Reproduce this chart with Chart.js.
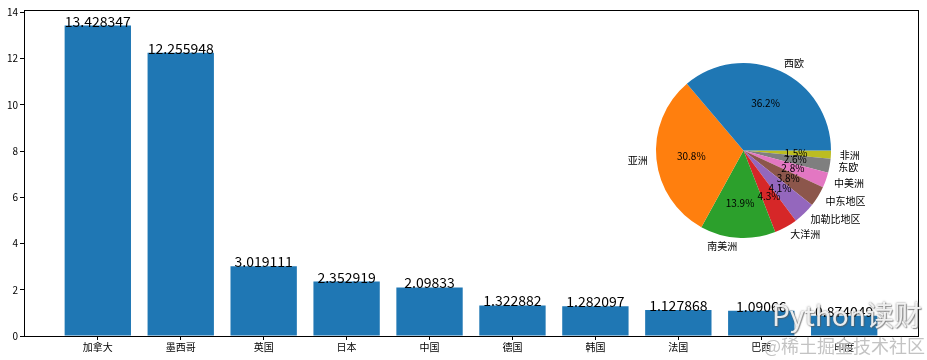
<!DOCTYPE html>
<html>
<head>
<meta charset="utf-8">
<script src="https://cdn.jsdelivr.net/npm/chart.js@4.4.1/dist/chart.umd.min.js"></script>
<style>
  html, body { margin: 0; padding: 0; background: #fff; }
  #wrap { position: relative; width: 927px; height: 360px; overflow: hidden; }
  #bar { position: absolute; left: 0; top: 0; }
  #pie { position: absolute; left: 600px; top: 40px; }
  .wm1 { position: absolute; left: 772px; top: 296px; font-family: "Noto Sans CJK SC", sans-serif; font-size: 28px; line-height: 36px; color: rgba(255,255,255,0.88); text-shadow: 0 0 2px rgba(90,90,90,0.8), 1px 1px 1px rgba(90,90,90,0.6); white-space: nowrap; }
  .wm2 { position: absolute; left: 764px; top: 333px; font-family: "Noto Sans CJK SC", sans-serif; font-size: 18px; line-height: 24px; color: rgba(175,175,175,0.75); text-shadow: 0 0 1px rgba(255,255,255,0.8); white-space: nowrap; }
</style>
</head>
<body>
<div id="wrap">
  <canvas id="bar" width="927" height="360"></canvas>
  <canvas id="pie" width="280" height="230"></canvas>
  <div class="wm1">Python读财</div>
  <div class="wm2">@稀土掘金技术社区</div>
</div>
<script>
// ---- data ----
const countries = ['加拿大', '墨西哥', '英国', '日本', '中国', '德国', '韩国', '法国', '巴西', '印度'];
const countryValues = [13.428347, 12.255948, 3.019111, 2.352919, 2.09833, 1.322882, 1.282097, 1.127868, 1.09066, 0.874049];
const yTicks = [0, 2, 4, 6, 8, 10, 12, 14];

const regions = ['西欧', '亚洲', '南美洲', '大洋洲', '加勒比地区', '中东地区', '中美洲', '东欧', '非洲'];
const regionShares = [36.2, 30.8, 13.9, 4.3, 4.1, 3.8, 2.8, 2.6, 1.5];
const regionColors = ['#1f77b4', '#ff7f0e', '#2ca02c', '#d62728', '#9467bd', '#8c564b', '#e377c2', '#7f7f7f', '#bcbd22'];

const FONT = '"Noto Sans CJK SC", "DejaVu Sans", sans-serif';

// ---- bar chart ----
const frame = {
  id: 'frame',
  afterDraw(chart) {
    const a = chart.chartArea, ctx = chart.ctx;
    ctx.save();
    ctx.strokeStyle = '#000';
    ctx.lineWidth = 1;
    ctx.strokeRect(Math.round(a.left) + 0.5, Math.round(a.top) + 0.5, Math.round(a.right - a.left), Math.round(a.bottom - a.top));
    ctx.restore();
  }
};
const barLabels = {
  id: 'barLabels',
  afterDatasetsDraw(chart) {
    const ctx = chart.ctx;
    const meta = chart.getDatasetMeta(0);
    ctx.save();
    ctx.fillStyle = '#000';
    ctx.font = '14px ' + FONT;
    ctx.textAlign = 'center';
    ctx.textBaseline = 'alphabetic';
    meta.data.forEach((el, i) => {
      ctx.fillText(String(countryValues[i]), el.x, el.y + 1);
    });
    ctx.restore();
  }
};

new Chart(document.getElementById('bar'), {
  type: 'bar',
  data: {
    datasets: [{
      data: countryValues.map((v, i) => ({ x: i, y: v })),
      backgroundColor: '#1f77b4',
      borderWidth: 0,
      barPercentage: 0.8,
      categoryPercentage: 1.0
    }]
  },
  options: {
    responsive: false,
    animation: false,
    layout: { padding: { left: 0, top: 10, right: 9, bottom: 0 } },
    plugins: { legend: { display: false }, tooltip: { enabled: false } },
    scales: {
      x: {
        type: 'linear',
        offset: false,
        min: -0.89,
        max: 9.89,
        afterBuildTicks(s) { s.ticks = countries.map((c, i) => ({ value: i })); },
        afterFit(s) { s.height = 24; },
        ticks: {
          autoSkip: false,
          maxRotation: 0,
          padding: 1,
          color: '#000',
          font: { family: FONT, size: 10 },
          callback: (v) => countries[v]
        },
        grid: { offset: false, drawOnChartArea: false, drawTicks: true, tickLength: 4, color: '#000' },
        border: { display: true, color: '#000' }
      },
      y: {
        min: 0,
        max: 14.1,
        afterBuildTicks(s) { s.ticks = yTicks.map(v => ({ value: v })); },
        afterFit(s) { s.width = 24; },
        ticks: {
          padding: 2,
          color: '#000',
          font: { family: FONT, size: 10 }
        },
        grid: { drawOnChartArea: false, drawTicks: true, tickLength: 4, color: '#000' },
        border: { display: true, color: '#000' }
      }
    }
  },
  plugins: [barLabels, frame]
});

// ---- pie chart (inset) ----
const revIdx = regions.map((_, i) => regions.length - 1 - i);
const pieLabels = {
  id: 'pieLabels',
  afterDatasetsDraw(chart) {
    const ctx = chart.ctx;
    const meta = chart.getDatasetMeta(0);
    ctx.save();
    ctx.fillStyle = '#000';
    meta.data.forEach((el, k) => {
      const i = revIdx[k];
      const mid = (el.startAngle + el.endAngle) / 2;
      const r = el.outerRadius;
      const c = Math.cos(mid), s = Math.sin(mid);
      ctx.font = '10px ' + FONT;
      ctx.textBaseline = 'middle';
      ctx.textAlign = c > 0 ? 'left' : 'right';
      ctx.fillText(regions[i], el.x + r * 1.1 * c, el.y + r * 1.1 * s);
      ctx.textAlign = 'center';
      ctx.font = '10px ' + FONT;
      ctx.fillText(regionShares[i].toFixed(1) + '%', el.x + r * 0.6 * c, el.y + r * 0.6 * s);
    });
    ctx.restore();
  }
};

new Chart(document.getElementById('pie'), {
  type: 'pie',
  data: {
    labels: revIdx.map(i => regions[i]),
    datasets: [{
      data: revIdx.map(i => regionShares[i]),
      backgroundColor: revIdx.map(i => regionColors[i]),
      borderWidth: 0
    }]
  },
  options: {
    responsive: false,
    animation: false,
    rotation: 90,
    layout: { padding: { left: 56, right: 49, top: 23, bottom: 32 } },
    plugins: { legend: { display: false }, tooltip: { enabled: false } }
  },
  plugins: [pieLabels]
});
</script>
</body>
</html>
